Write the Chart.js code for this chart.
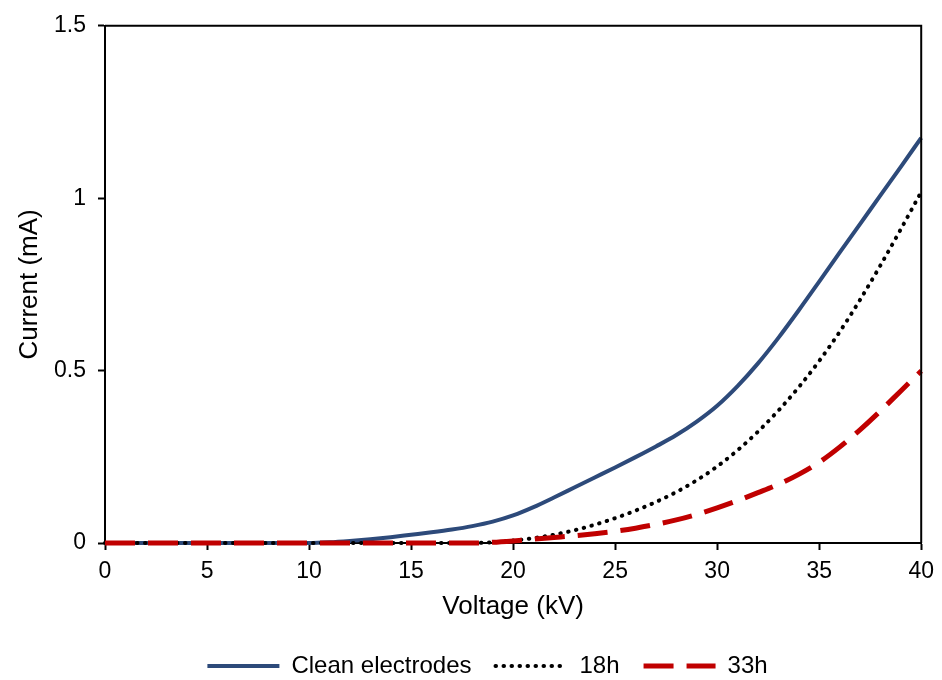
<!DOCTYPE html>
<html>
<head>
<meta charset="utf-8">
<script src="https://cdn.jsdelivr.net/npm/chart.js@4.4.1/dist/chart.umd.min.js"></script>
<style>
html,body{margin:0;padding:0;background:#fff;}
#wrap{width:942px;height:680px;position:relative;}
</style>
</head>
<body>
<div id="wrap"><canvas id="c" width="942" height="680"></canvas></div>
<script>
// ---- data ----
const voltage = [0,1,2,3,4,5,6,7,8,9,10,11,12,13,14,15,16,17,18,19,20,21,22,23,24,25,26,27,28,29,30,31,32,33,34,35,36,37,38,39,40];
const cleanElectrodes = [0,0,0,0,0,0,0,0,0,0,0,0.002,0.006,0.011,0.017,0.024,0.031,0.039,0.049,0.062,0.080,0.104,0.132,0.161,0.190,0.219,0.249,0.280,0.313,0.352,0.398,0.455,0.521,0.595,0.675,0.758,0.842,0.925,1.008,1.091,1.175];
const after18h = [0,0,0,0,0,0,0,0,0,0,0,0,0,0,0,0,0,0,0,0.002,0.007,0.014,0.024,0.037,0.053,0.072,0.094,0.119,0.148,0.182,0.222,0.269,0.323,0.384,0.452,0.528,0.612,0.705,0.805,0.910,1.018];
const after33h = [0,0,0,0,0,0,0,0,0,0,0,0,0,0,0,0,0,0,0,0.002,0.006,0.011,0.016,0.021,0.027,0.034,0.043,0.054,0.067,0.083,0.102,0.123,0.146,0.170,0.199,0.234,0.278,0.328,0.383,0.441,0.499];
const seriesNames = ['Clean electrodes', '18h', '33h'];
const xTickValues = [0,5,10,15,20,25,30,35,40];
const yTickValues = [0,0.5,1,1.5];
const xTitle = 'Voltage (kV)';
const yTitle = 'Current (mA)';

const toPoints = (ys) => ys.map((y, i) => ({x: voltage[i], y: y}));

const frame = {
  id: 'frame',
  afterDatasetsDraw(chart) {
    const a = chart.chartArea, ctx = chart.ctx;
    ctx.save();
    ctx.strokeStyle = '#000';
    ctx.lineWidth = 2;
    ctx.beginPath();
    ctx.moveTo(a.left, a.top);
    ctx.lineTo(a.right, a.top);
    ctx.lineTo(a.right, a.bottom);
    ctx.stroke();
    ctx.restore();
  }
};

const FONT = "'Liberation Sans', Arial, sans-serif";

new Chart(document.getElementById('c'), {
  type: 'line',
  data: {
    datasets: [
      {
        label: seriesNames[0],
        data: toPoints(cleanElectrodes),
        borderColor: '#2D4A7A',
        backgroundColor: '#2D4A7A',
        borderWidth: 4,
        pointRadius: 0,
        cubicInterpolationMode: 'monotone',
        clip: false,
        order: 3
      },
      {
        label: seriesNames[1],
        data: toPoints(after18h),
        borderColor: '#000000',
        backgroundColor: '#000000',
        borderWidth: 4,
        borderDash: [0.5, 7.5],
        borderCapStyle: 'round',
        pointRadius: 0,
        cubicInterpolationMode: 'monotone',
        clip: false,
        order: 2
      },
      {
        label: seriesNames[2],
        data: toPoints(after33h),
        borderColor: '#C00000',
        backgroundColor: '#C00000',
        borderWidth: 5,
        borderDash: [30, 13],
        pointRadius: 0,
        cubicInterpolationMode: 'monotone',
        clip: false,
        order: 1
      }
    ]
  },
  options: {
    responsive: false,
    animation: false,
    devicePixelRatio: 1,
    layout: { padding: { left: 53, right: 20, top: 23, bottom: -8 } },
    plugins: {
      tooltip: { enabled: false },
      legend: {
        position: 'bottom',
        labels: {
          usePointStyle: true,
          pointStyle: 'line',
          pointStyleWidth: 72,
          boxHeight: 24,
          padding: 24,
          color: '#000',
          font: { family: FONT, size: 24 },
          sort: (a, b) => a.datasetIndex - b.datasetIndex,
          generateLabels: (chart) => {
            const items = Chart.defaults.plugins.legend.labels.generateLabels(chart);
            items.forEach(it => {
              const ds = chart.data.datasets[it.datasetIndex];
              it.lineDash = ds.borderDash || [];
              it.lineCap = ds.borderCapStyle || 'butt';
              it.lineWidth = ds.borderWidth;
              it.strokeStyle = ds.borderColor;
              it.fillStyle = ds.borderColor;
              it.pointStyle = 'line';
            });
            return items;
          }
        }
      }
    },
    scales: {
      x: {
        type: 'linear',
        min: 0,
        max: 40,
        afterBuildTicks: (axis) => { axis.ticks = xTickValues.map(v => ({value: v})); },
        afterFit: (axis) => { axis.height = 87; },
        grid: { display: true, drawOnChartArea: false, drawTicks: true, tickLength: 7, tickWidth: 2, tickColor: '#000' },
        border: { display: true, color: '#000', width: 2 },
        ticks: { color: '#000', font: { family: FONT, size: 23 }, padding: 8, maxRotation: 0, callback: (v) => String(v) },
        title: { display: true, text: xTitle, color: '#000', font: { family: FONT, size: 26 }, padding: { top: 0, bottom: 8 } }
      },
      y: {
        type: 'linear',
        min: 0,
        max: 1.5,
        afterBuildTicks: (axis) => { axis.ticks = yTickValues.map(v => ({value: v})); },
        afterFit: (axis) => { axis.width = 52; },
        grid: { display: true, drawOnChartArea: false, drawTicks: true, tickLength: 7, tickWidth: 2, tickColor: '#000' },
        border: { display: true, color: '#000', width: 2 },
        ticks: { color: '#000', font: { family: FONT, size: 23 }, padding: 12, callback: (v) => String(v) },
        title: { display: true, text: yTitle, color: '#000', font: { family: FONT, size: 26 }, padding: { top: -38.5, bottom: 0 } }
      }
    }
  },
  plugins: [frame]
});
</script>
</body>
</html>
